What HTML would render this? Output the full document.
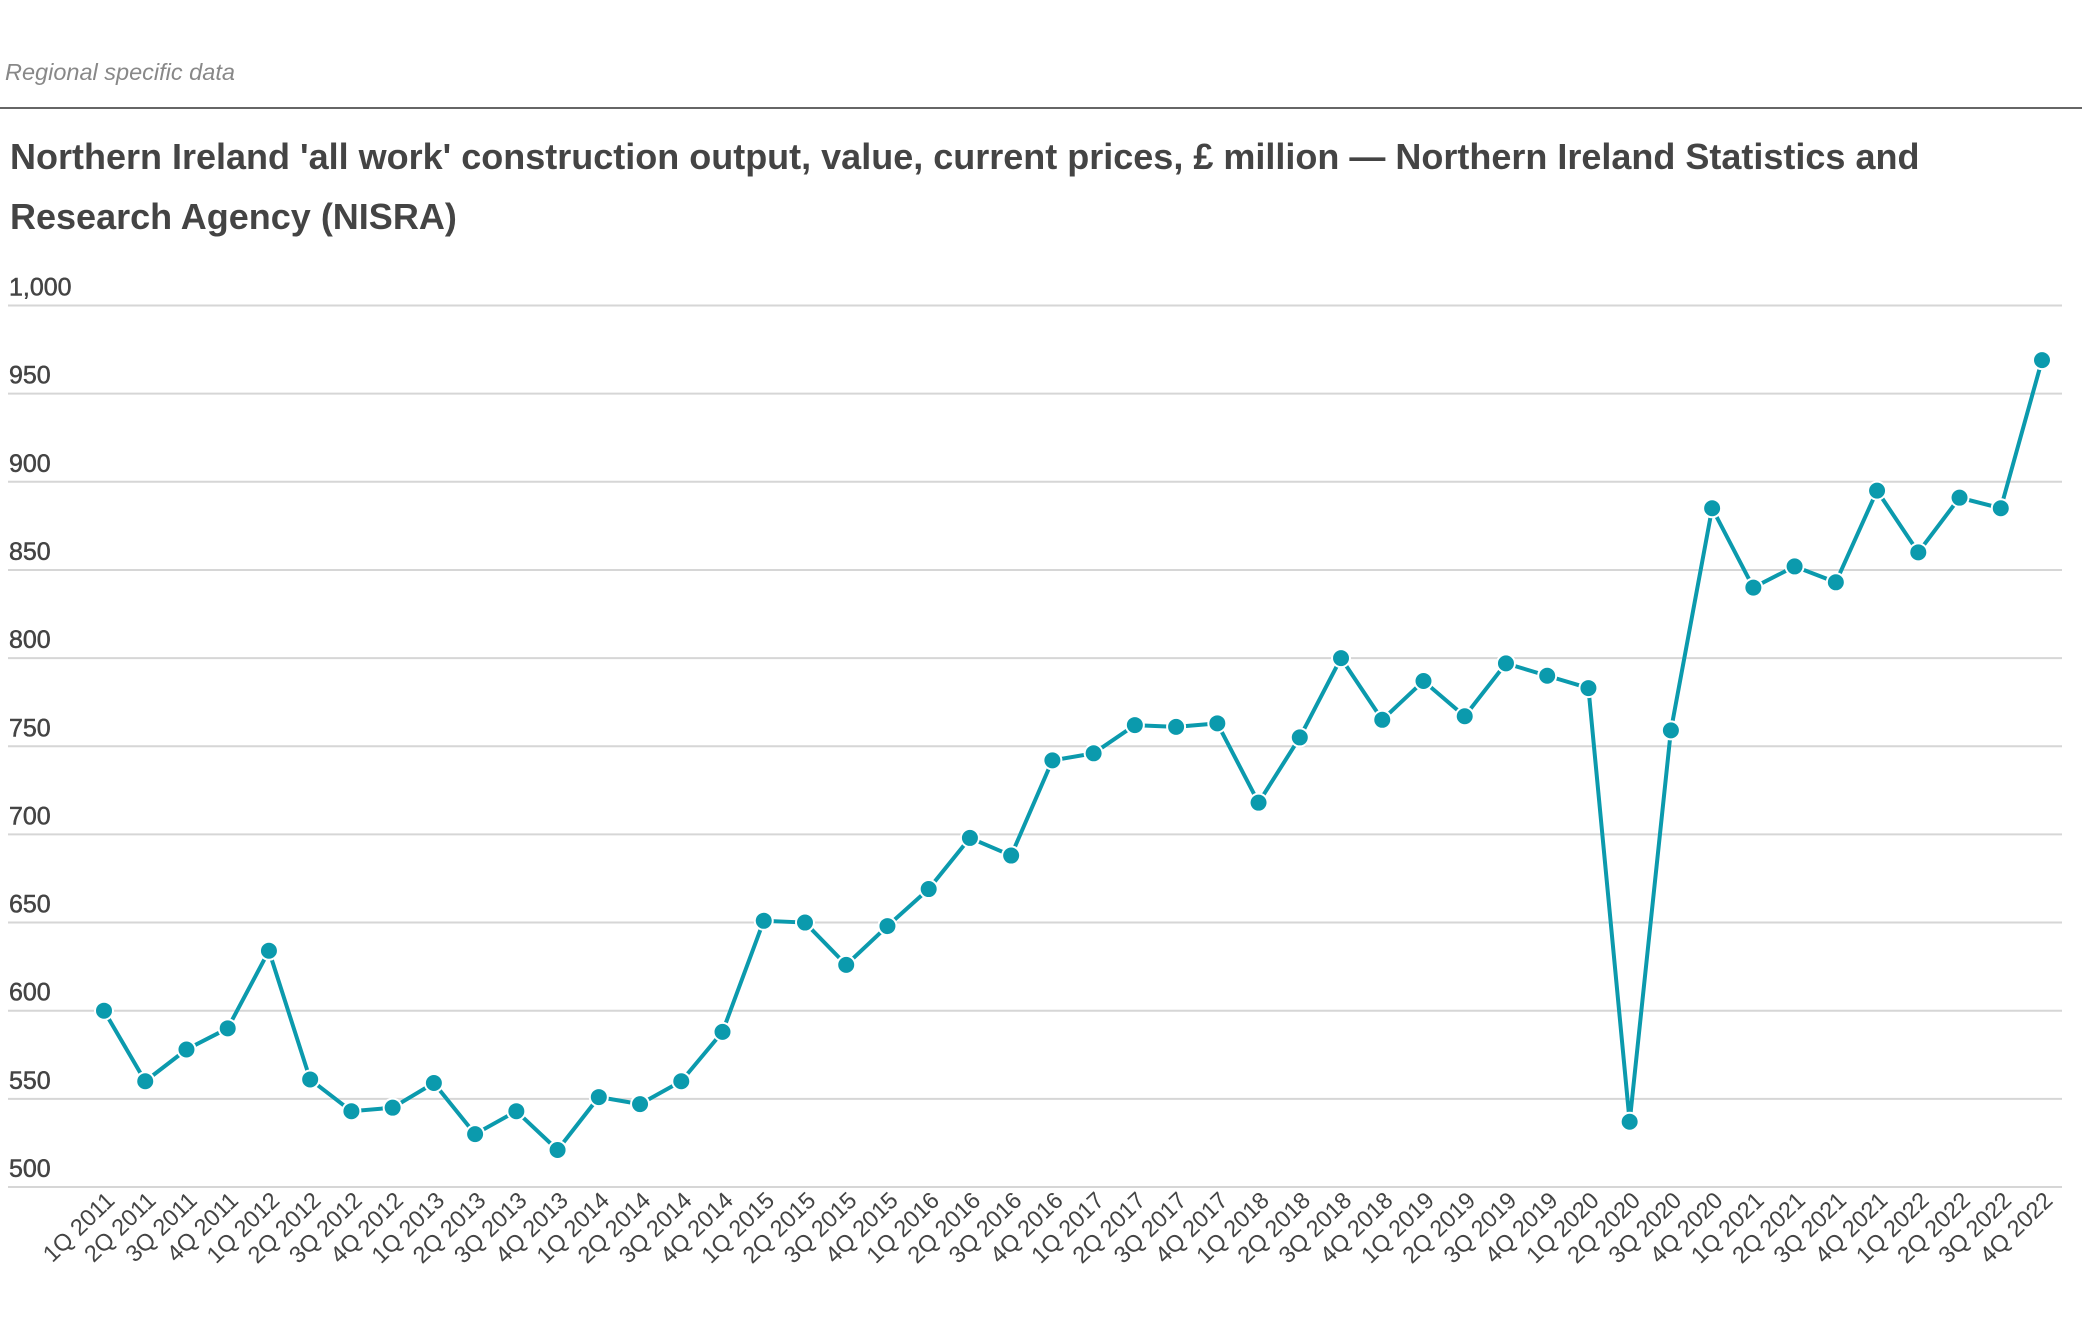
<!DOCTYPE html>
<html><head><meta charset="utf-8"><style>
body{margin:0;background:#fff;width:2082px;height:1334px;overflow:hidden;font-family:"Liberation Sans",sans-serif}
</style></head><body>
<svg width="2082" height="1334" xmlns="http://www.w3.org/2000/svg">
<text x="5" y="80" font-size="23.5" font-style="italic" fill="#888">Regional specific data</text>
<line x1="0" y1="108" x2="2082" y2="108" stroke="#666" stroke-width="2"/>
<text x="10" y="169" font-size="36" font-weight="bold" fill="#444">Northern Ireland 'all work' construction output, value, current prices, £ million — Northern Ireland Statistics and</text>
<text x="10" y="229" font-size="36" font-weight="bold" fill="#444">Research Agency (NISRA)</text>
<g id="grid"></g><g id="xl"></g><path id="ln" fill="none" stroke="#0b9aad" stroke-width="4"/><g id="pts"></g>
</svg>
<script>
const categories=[];for(let y=2011;y<=2022;y++)for(let q=1;q<=4;q++)categories.push(q+'Q '+y);
const values=[600,560,578,590,634,561,543,545,559,530,543,521,551,547,560,588,651,650,626,648,669,698,688,742,746,762,761,763,718,755,800,765,787,767,797,790,783,537,759,885,840,852,843,895,860,891,885,969];
const yTicks=[500,550,600,650,700,750,800,850,900,950,1000];
const yTickLabels=['500','550','600','650','700','750','800','850','900','950','1,000'];
const NS='http://www.w3.org/2000/svg';
const yS=v=>1187-(v-500)*(1187-305.5)/500;
const xS=i=>104+i*(2042-104)/(categories.length-1);
const mk=(t,a,p)=>{const e=document.createElementNS(NS,t);for(const k in a)e.setAttribute(k,a[k]);p.appendChild(e);return e;};
const g=document.getElementById('grid');
yTicks.forEach((v,i)=>{
 const l=mk('line',{x1:8,x2:2062,y1:yS(v),y2:yS(v),stroke:'#d6d6d6','stroke-width':2},g);
 
 
 const t=mk('text',{x:9,y:yS(v)-10,'font-size':25,fill:'#444',stroke:'#444','stroke-width':0.5},g);t.textContent=yTickLabels[i];
 
 
});
const xl=document.getElementById('xl');
categories.forEach((c,i)=>{
 const x=xS(i)+12,y=1202;
 const t=mk('text',{x:x,y:y,'font-size':23.5,fill:'#444','text-anchor':'end',transform:`rotate(-44 ${x} ${y})`},xl);t.textContent=c;
 
 
});
const ln=document.getElementById('ln');
ln.setAttribute('d',values.map((v,i)=>(i?'L':'M')+xS(i)+' '+yS(v)).join(' '));


const p=document.getElementById('pts');
values.forEach((v,i)=>{
 const c=mk('circle',{cx:xS(i),cy:yS(v),r:9,fill:'#0b9aad',stroke:'#fff','stroke-width':2},p);
 
 
});
</script>
</body></html>
